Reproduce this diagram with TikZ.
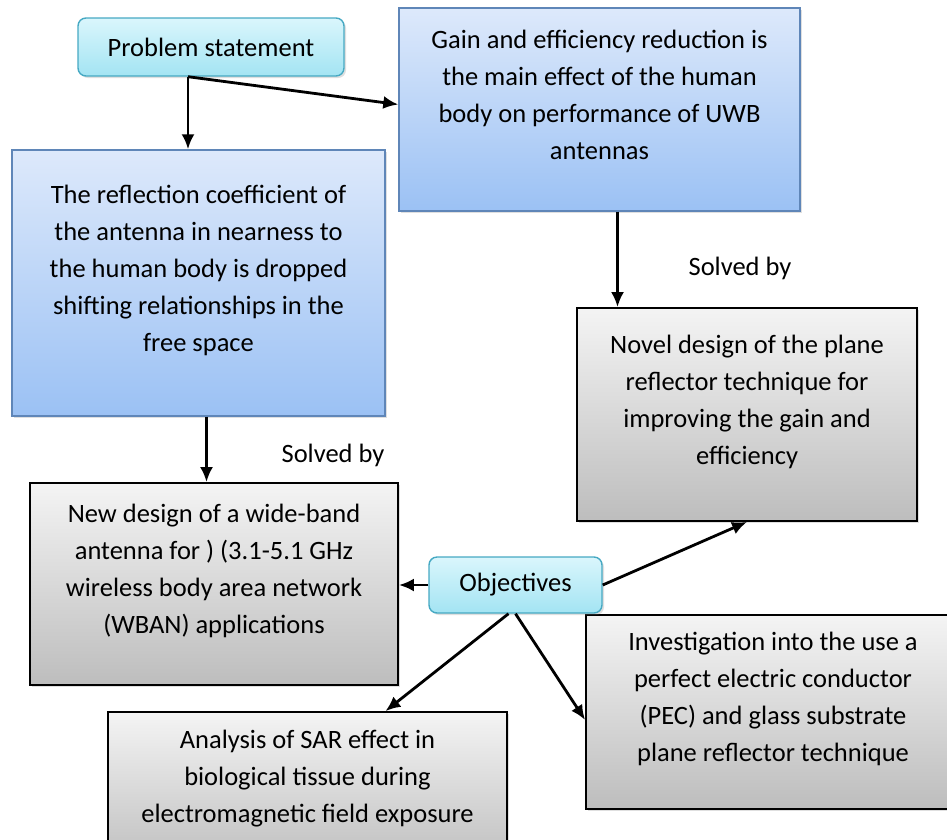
\documentclass[tikz,border=0pt]{standalone}
\usepackage{fontspec}
\setmainfont{Carlito}
\usepackage{tikz}
\usetikzlibrary{shapes,arrows,arrows.meta,shadows,positioning,calc}

\definecolor{bluetop}{HTML}{DDE9FB}
\definecolor{bluebot}{HTML}{9BC1F4}
\definecolor{blueline}{HTML}{5F86B8}
\definecolor{cyantop}{HTML}{DAF6FC}
\definecolor{cyanbot}{HTML}{A3E4F3}
\definecolor{cyanline}{HTML}{46A9C3}
\definecolor{graytop}{HTML}{F4F4F4}
\definecolor{graybot}{HTML}{BDBDBD}

\newcommand{\gap}{\\[-7pt]\mbox{}}

\tikzset{
  every node/.style={font=\fontsize{26.5}{37}\selectfont},
  bluebox/.style={draw=blueline,line width=1.4pt,top color=bluetop,bottom color=bluebot,
    align=center,inner sep=0pt,drop shadow={opacity=0.25,shadow xshift=2pt,shadow yshift=-2pt}},
  graybox/.style={draw=black,line width=1.8pt,top color=graytop,bottom color=graybot,
    align=center,inner sep=0pt,drop shadow={opacity=0.25,shadow xshift=2pt,shadow yshift=-2pt}},
  tagbox/.style={draw=cyanline,line width=1.4pt,top color=cyantop,bottom color=cyanbot,
    rounded corners=8pt,align=center,inner sep=0pt,drop shadow={opacity=0.25,shadow xshift=2pt,shadow yshift=-2pt}},
  link/.style={->,line width=2.8pt},
}

\begin{document}
\begin{tikzpicture}[>={Latex[length=15pt,width=13pt]},x=1pt,y=-1pt]
\useasboundingbox (0,0) rectangle (947,839);
%%
\node (gain) at (599.5,109.5) [bluebox,minimum width=401pt,minimum height=203pt]
  {Gain and efficiency reduction is\\the main effect of the human\\body on performance of UWB\\antennas\gap};
\node (refl) at (198.5,283) [bluebox,minimum width=373pt,minimum height=266pt]
  {The reflection coefficient of\\the antenna in nearness to\\the human body is dropped\\shifting relationships in the\\free space\gap};
\node (ps) at (211,47) [tagbox,minimum width=266pt,minimum height=58pt] {Problem statement};
\node (novel) at (747,414.5) [graybox,minimum width=340pt,minimum height=213pt]
  {Novel design of the plane\\reflector technique for\\improving the gain and\\efficiency\gap};
\node (newd) at (214,584) [graybox,minimum width=368pt,minimum height=202pt]
  {New design of a wide-band\\antenna for ) (3.1-5.1 GHz\\wireless body area network\\(WBAN) applications\gap};
\node (inv) at (773,712) [graybox,minimum width=374pt,minimum height=194pt]
  {Investigation into the use a\\perfect electric conductor\\(PEC) and glass substrate\\plane reflector technique\gap};
\node (anal) at (307.5,791) [graybox,minimum width=399pt,minimum height=158pt]
  {Analysis of SAR effect in\\biological tissue during\\electromagnetic field exposure\gap};
\node (obj) at (515.5,585) [tagbox,minimum width=173pt,minimum height=56pt] {Objectives};
\node (solved1) at (740,268) {Solved by};
\node (solved2) at (333,455) {Solved by};
%
\coordinate (split) at ([xshift=-23pt]ps.south);
\draw [link] (split) -- (split |- refl.north);
\draw [link] (split) -- ([yshift=5pt]gain.west);
\draw [link] ([xshift=18pt]gain.south) -- ([xshift=18pt]gain.south |- novel.north);
\draw [link] ([xshift=8pt]refl.south) -- ([xshift=8pt]refl.south |- newd.north);
\draw [link] (obj.west) -- (obj.west -| newd.east);
\draw [link] (obj.east) -- (novel.south);
\draw [link] ([xshift=-7pt]obj.south) -- ([xshift=78pt]anal.north);
\draw [link] (obj.south) -- ([yshift=-8pt]inv.west);
%
\end{tikzpicture}
\end{document}
